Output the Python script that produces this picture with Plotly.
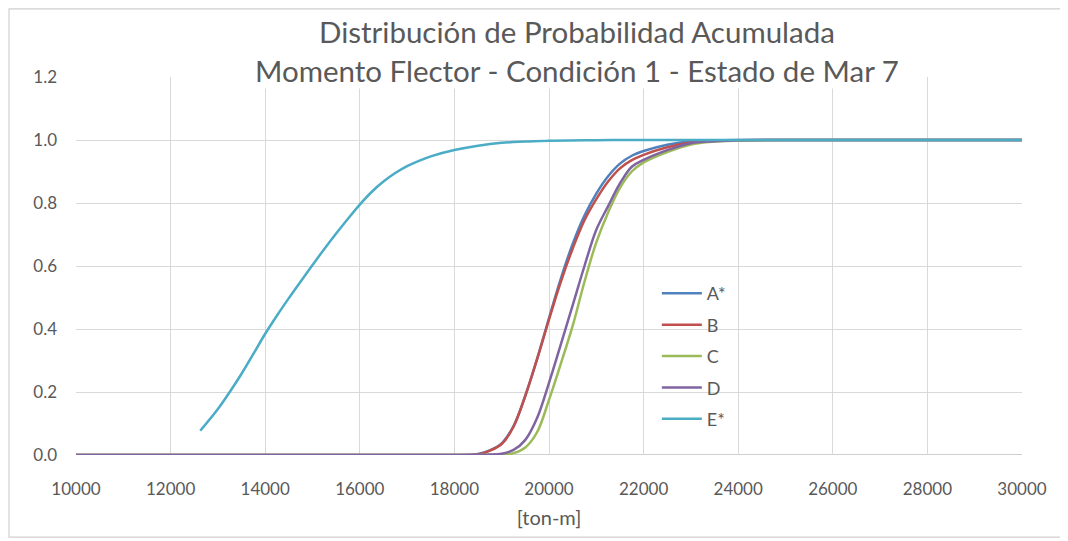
import plotly.graph_objects as go

# ---- data ----
x_vals = [10000, 12000, 14000, 16000, 18000, 18250, 18500, 18750, 19000, 19250,
          19500, 19750, 20000, 20250, 20500, 20750, 21000, 21250, 21500, 21750,
          22000, 22500, 23000, 23500, 24000, 25000, 26000, 28000, 30000]

a_vals = [0, 0, 0, 0, 0, 0.0005, 0.003, 0.015, 0.037, 0.092,
          0.189, 0.306, 0.435, 0.56, 0.67, 0.76, 0.83, 0.885, 0.925, 0.95,
          0.965, 0.985, 0.996, 0.999, 1.0, 1.0, 1.0, 1.0, 1.0]

b_vals = [0, 0, 0, 0, 0, 0.0003, 0.002, 0.014, 0.035, 0.09,
          0.188, 0.305, 0.43, 0.55, 0.655, 0.745, 0.812, 0.868, 0.91, 0.936,
          0.953, 0.977, 0.992, 0.997, 0.999, 1.0, 1.0, 1.0, 1.0]

c_vals = [0, 0, 0, 0, 0, 0, 0, 0.0005, 0.002, 0.006,
          0.024, 0.073, 0.175, 0.29, 0.41, 0.55, 0.675, 0.77, 0.848, 0.9,
          0.929, 0.962, 0.986, 0.995, 0.998, 1.0, 1.0, 1.0, 1.0]

d_vals = [0, 0, 0, 0, 0, 0, 0.0005, 0.0015, 0.004, 0.016,
          0.048, 0.118, 0.229, 0.351, 0.475, 0.60, 0.715, 0.79, 0.862, 0.915,
          0.937, 0.968, 0.99, 0.996, 0.999, 1.0, 1.0, 1.0, 1.0]

e_x = [12626, 13000, 13250, 13500, 13750, 14000, 14250, 14500, 14750, 15000,
       15250, 15500, 15750, 16000, 16250, 16500, 16750, 17000, 17250, 17500,
       18000, 18500, 19000, 19500, 20000, 21000, 22000, 24000, 26000, 28000, 30000]
e_vals = [0.077, 0.146, 0.2, 0.258, 0.321, 0.385, 0.443, 0.498, 0.551, 0.603,
          0.654, 0.703, 0.75, 0.795, 0.835, 0.868, 0.895, 0.917, 0.934, 0.948,
          0.968, 0.982, 0.991, 0.995, 0.998, 0.9995, 1.0, 1.0, 1.0, 1.0, 1.0]

series_names = ["A*", "B", "C", "D", "E*"]
series_colors = ["#4F81BD", "#C0504D", "#9BBB59", "#8064A2", "#4BACC6"]

x_ticks = [10000, 12000, 14000, 16000, 18000, 20000, 22000, 24000, 26000, 28000, 30000]
y_ticks = [0.0, 0.2, 0.4, 0.6, 0.8, 1.0, 1.2]

title_line1 = "Distribución de Probabilidad Acumulada"
title_line2 = "Momento Flector - Condición 1 - Estado de Mar 7"
x_title = "[ton-m]"

FONT = "Lato, 'Open Sans', sans-serif"
TXT = "#595959"

fig = go.Figure()
all_x = [x_vals, x_vals, x_vals, x_vals, e_x]
all_y = [a_vals, b_vals, c_vals, d_vals, e_vals]
for i, name in enumerate(series_names):
    fig.add_trace(go.Scatter(
        x=all_x[i], y=all_y[i], mode="lines", name=name,
        legendgroup=name,
        line=dict(color=series_colors[i], width=2.5, shape="spline", smoothing=1.0),
        hoverinfo="x+y+name",
    ))

# page body has an 8px default margin, so the figure is sized to fit inside it
fig.update_layout(
    width=1060, height=533,
    margin=dict(l=68, r=46, t=69, b=86),
    paper_bgcolor="white", plot_bgcolor="white",
    font=dict(family=FONT, color=TXT, size=16),
    showlegend=True,
    legend=dict(
        x=0.614, y=0.476, xanchor="left", yanchor="top",
        bgcolor="rgba(0,0,0,0)", borderwidth=0,
        font=dict(family=FONT, size=18, color=TXT),
        tracegroupgap=5, itemwidth=40,
    ),
    xaxis=dict(
        range=[10000, 30000], tickvals=x_ticks, ticktext=[str(v) for v in x_ticks],
        showgrid=True, gridcolor="#D9D9D9", gridwidth=1.3,
        zeroline=False, showline=False,
        ticks="", tickfont=dict(size=17, color=TXT), ticklabelstandoff=22,
        title=dict(text=x_title, font=dict(size=20, color=TXT), standoff=12),
    ),
    yaxis=dict(
        range=[0, 1.2], tickvals=y_ticks, tickformat=".1f",
        showgrid=True, gridcolor="#D9D9D9", gridwidth=1.3,
        zeroline=False, showline=False,
        ticks="", tickfont=dict(size=17, color=TXT), ticklabelstandoff=18,
    ),
)

# baseline (horizontal axis line)
fig.add_shape(type="line", xref="paper", yref="y", x0=0, x1=1, y0=0, y1=0,
              line=dict(color="#BFBFBF", width=1.3), layer="below")
# chart-area border
fig.add_shape(type="rect", xref="paper", yref="paper",
              x0=-0.0708, x1=1.041, y0=-0.217, y1=1.18,
              line=dict(color="#D0D0D0", width=1.2))

fig.add_annotation(text=title_line1, xref="paper", yref="paper",
                   x=0.5296, y=1.121, xanchor="center", yanchor="middle",
                   showarrow=False, font=dict(size=29.5, color=TXT, family=FONT))
fig.add_annotation(text=title_line2, xref="paper", yref="paper",
                   x=0.5296, y=1.0185, xanchor="center", yanchor="middle",
                   showarrow=False, bgcolor="white", borderpad=0,
                   font=dict(size=29.5, color=TXT, family=FONT))

fig.write_html("out.html")
